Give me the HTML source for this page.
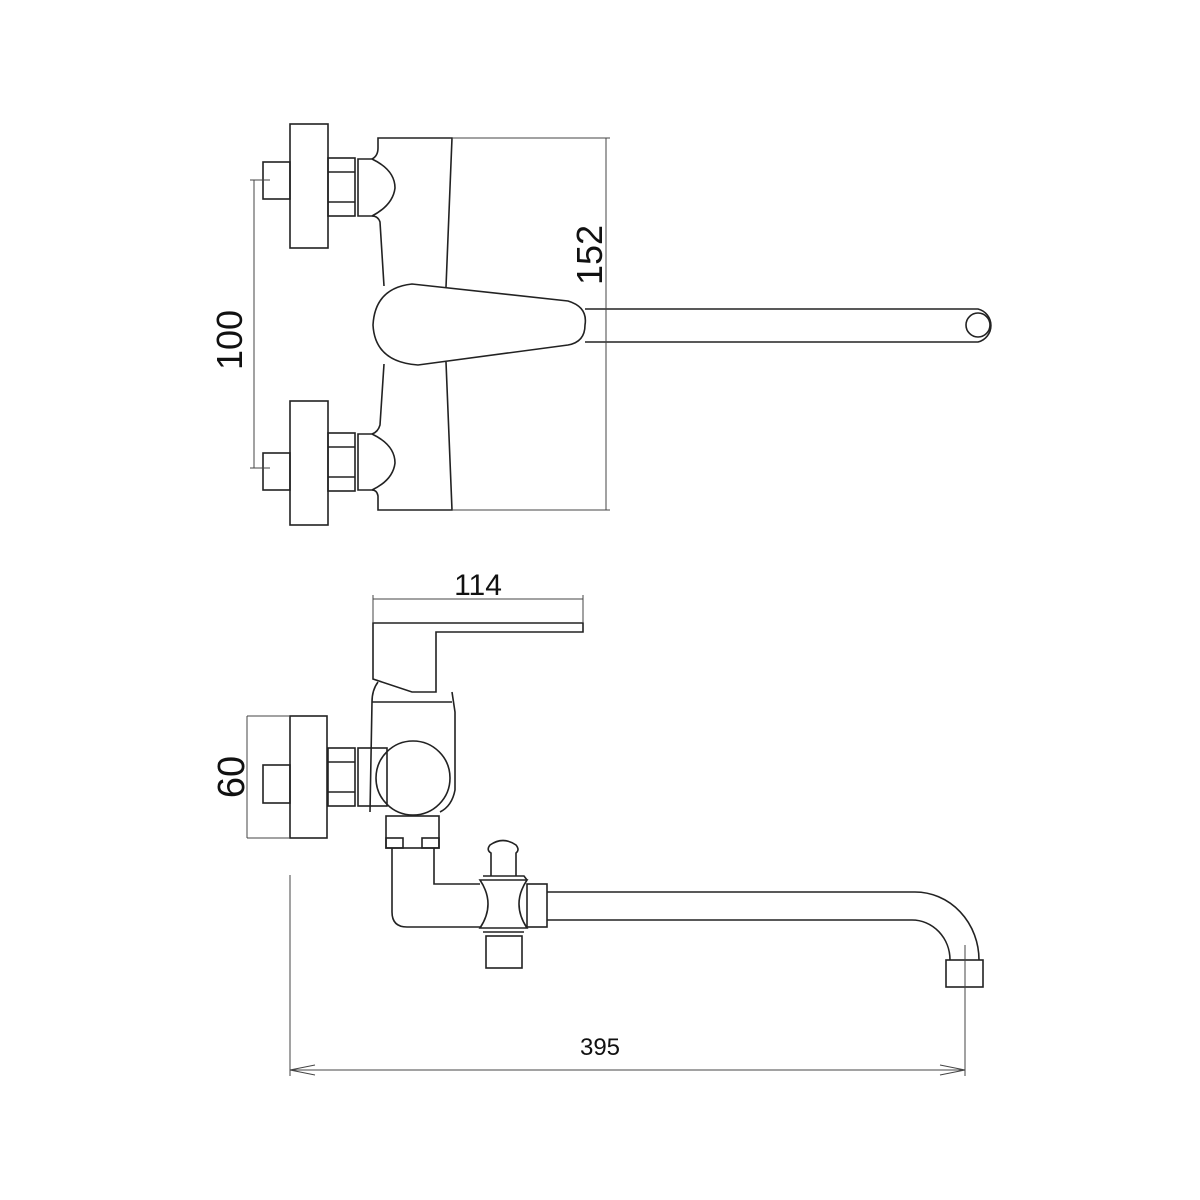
<!DOCTYPE html>
<html><head><style>body{margin:0;background:#fff}svg{display:block}</style></head><body>
<svg width="1200" height="1200" viewBox="0 0 1200 1200" xmlns="http://www.w3.org/2000/svg">
<rect width="1200" height="1200" fill="#fff"/>
<g fill="none" stroke="#222" stroke-width="1.6">
<!-- TOP VIEW -->
<rect x="290" y="124" width="38" height="124"/>
<rect x="263" y="162" width="27" height="37"/>
<rect x="328" y="158" width="27" height="58"/>
<line x1="328" y1="172" x2="355" y2="172"/><line x1="328" y1="202" x2="355" y2="202"/>
<rect x="290" y="401" width="38" height="124"/>
<rect x="263" y="453" width="27" height="37"/>
<rect x="328" y="433" width="27" height="58"/>
<line x1="328" y1="447" x2="355" y2="447"/><line x1="328" y1="477" x2="355" y2="477"/>
<path d="M358,159 L372,159 Q395,170 395,188 Q393,205 372,216 L358,216 Z"/>
<path d="M358,434 L372,434 Q395,445 395,463 Q393,480 372,490 L358,490 Z"/>
<path d="M372,159 Q378,156 378,148 L378,138 L452,138 L446,287 M446,362 L452,510 L378,510 L378,496 Q377,490 372,490 M372,434 Q378,432 380,425 L384,364 M384,286 L380,222 Q378,216 372,216"/>
<path d="M373,325 Q375,288 412,284 L568,301 Q588,307 585,325 Q585,342 568,345 L418,365 Q375,362 373,325 Z"/>
<path d="M585,309 L978,309 A17,17 0 0 1 978,342 L585,342"/>
<circle cx="978" cy="325" r="12"/>
<!-- BOTTOM VIEW -->
<path d="M373,623 L583,623 L583,632 L436,632 L436,692 L412,692 L373,679 Z"/>
<path d="M378,682 Q372,690 372,702 L370,812 M372,702 L452,702 M452,692 L455,712 L455,790 Q452,806 440,812"/>
<circle cx="413" cy="778" r="37"/>
<rect x="358" y="748" width="29" height="58"/>
<rect x="328" y="748" width="27" height="58"/>
<line x1="328" y1="762" x2="355" y2="762"/><line x1="328" y1="792" x2="355" y2="792"/>
<rect x="290" y="716" width="37" height="122"/>
<rect x="263" y="765" width="27" height="38"/>
<rect x="386" y="816" width="53" height="32"/>
<rect x="386" y="838" width="17" height="10"/><rect x="422" y="838" width="17" height="10"/>
<path d="M392,848 L392,912 Q392,927 407,927 L480,927 M434,848 L434,884 L480,884"/>
<path d="M480,880 L527,880 Q511,904 527,928 L480,928 Q496,904 480,880 Z"/>
<path d="M483,876 L524,876 L527,880 M483,932 L524,932"/>
<path d="M491,876 L491,853 Q486,850 490,845 Q503,836 516,845 Q520,850 516,853 L516,876"/>
<rect x="527" y="884" width="20" height="43"/>
<rect x="486" y="936" width="36" height="32"/>
<path d="M547,892 L915,892 A64,68 0 0 1 979,960 M547,920 L912,920 A38,40 0 0 1 950,960"/>
<rect x="946" y="960" width="37" height="27"/>
</g>
<g fill="none" stroke="#444" stroke-width="1">
<line x1="452" y1="138" x2="610" y2="138"/><line x1="452" y1="510" x2="610" y2="510"/>
<line x1="606" y1="138" x2="606" y2="510"/>
<line x1="250" y1="180" x2="270" y2="180"/><line x1="250" y1="468" x2="270" y2="468"/>
<line x1="254" y1="180" x2="254" y2="468"/>
<line x1="373" y1="599" x2="583" y2="599"/><line x1="373" y1="595" x2="373" y2="623"/><line x1="583" y1="595" x2="583" y2="623"/>
<line x1="247" y1="716" x2="290" y2="716"/><line x1="247" y1="838" x2="290" y2="838"/>
<line x1="247" y1="716" x2="247" y2="838"/>
<line x1="290" y1="875" x2="290" y2="1076"/><line x1="965" y1="945" x2="965" y2="1076"/>
<line x1="290" y1="1070" x2="965" y2="1070"/>
<path d="M290,1070 L315,1065 M290,1070 L315,1075 M965,1070 L940,1065 M965,1070 L940,1075"/>
</g>
<g font-family="Liberation Sans, sans-serif" fill="#111">
<text x="602" y="255" font-size="36" text-anchor="middle" transform="rotate(-90 602 255)">152</text>
<text x="242" y="340" font-size="36" text-anchor="middle" transform="rotate(-90 242 340)">100</text>
<text x="478" y="595" font-size="30" text-anchor="middle">114</text>
<text x="244" y="777" font-size="38" text-anchor="middle" transform="rotate(-90 244 777)">60</text>
<text x="600" y="1055" font-size="24" text-anchor="middle">395</text>
</g>
</svg>
</body></html>
